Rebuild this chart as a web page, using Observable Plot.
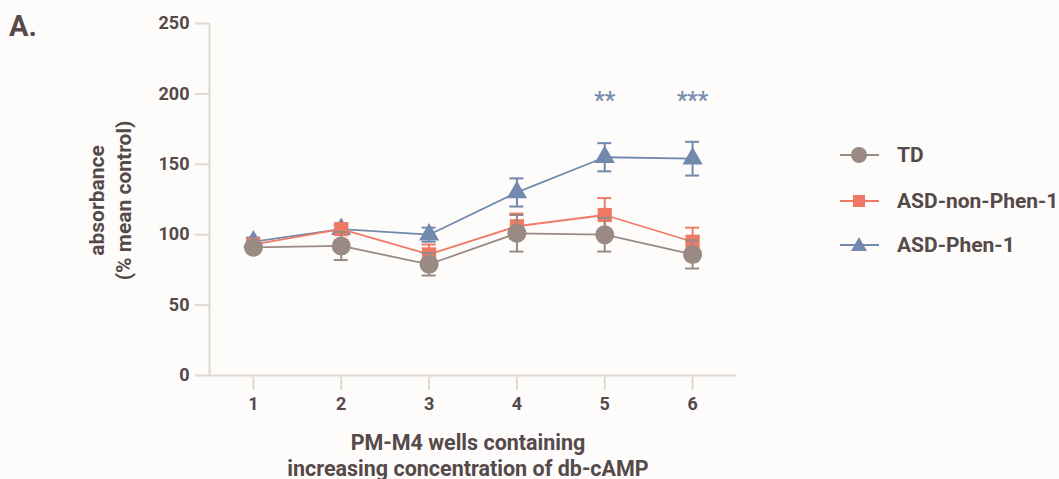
<!DOCTYPE html>
<html>
<head>
<meta charset="utf-8">
<script src="https://cdn.jsdelivr.net/npm/d3@7"></script>
<script src="https://cdn.jsdelivr.net/npm/@observablehq/plot@0.6"></script>
<style>
  html, body { margin: 0; padding: 0; background: #fdfcfa; }
  body { width: 1059px; height: 479px; position: relative; overflow: hidden; font-family: Roboto, "Noto Sans", sans-serif; }
  #panel { position: absolute; left: 9px; top: 9px; font-size: 29px; font-weight: 700; color: #55494a; }
  #legend { position: absolute; left: 840px; top: 0; }
  .item { position: absolute; left: 0; display: flex; align-items: center; white-space: nowrap; }
  .item span { margin-left: 18px; font-size: 21px; font-weight: 700; color: #55494a; }
  #chart { position: absolute; left: 0; top: 0; }
</style>
</head>
<body>
<div id="chart"></div>
<div id="panel">A.</div>
<div id="legend"></div>
<script>
const wells = [1, 2, 3, 4, 5, 6];
const seriesNames = ["TD", "ASD-non-Phen-1", "ASD-Phen-1"];
const seriesColors = ["#9a8a84", "#ee7a66", "#7189ad"];
const seriesSymbols = ["circle", "square", "triangle"];
const tdMean = [91, 92, 79, 101, 100, 86];
const tdSem = [3, 10, 8, 13, 12, 10];
const nonMean = [93, 104, 86, 106, 114, 95];
const nonSem = [3, 3, 7, 9, 12, 10];
const phenMean = [95, 104, 100, 130, 155, 154];
const phenSem = [3, 3, 5, 10, 10, 12];
const yTicks = [0, 50, 100, 150, 200, 250];
const sigWells = [5, 6];
const sigLabels = ["**", "***"];
const sigY = [195, 195];

const means = [tdMean, nonMean, phenMean];
const sems = [tdSem, nonSem, phenSem];
const textColor = "#55494a";
const axisColor = "#ddd8d0";

function rows(i) {
  return wells.map((w, j) => ({ x: w, y: means[i][j], lo: means[i][j] - sems[i][j], hi: means[i][j] + sems[i][j], s: seriesNames[i] }));
}
// draw order: ASD-Phen-1 at bottom, TD on top
const order = [2, 1, 0];
const marks = [];
marks.push(Plot.ruleY([0], { x1: 0.5, x2: 6.5, stroke: axisColor, strokeWidth: 2 }));
marks.push(Plot.ruleX([0.5], { y1: 0, y2: 250, stroke: axisColor, strokeWidth: 2 }));
for (const i of order) {
  const d = rows(i);
  const c = seriesColors[i];
  marks.push(Plot.ruleX(d, { x: "x", y1: "lo", y2: "hi", stroke: c, strokeWidth: 2 }));
  marks.push(Plot.ruleY(d, { y: "hi", x1: "x", x2: "x", insetLeft: -7, insetRight: -7, stroke: c, strokeWidth: 2 }));
  marks.push(Plot.ruleY(d, { y: "lo", x1: "x", x2: "x", insetLeft: -7, insetRight: -7, stroke: c, strokeWidth: 2 }));
  marks.push(Plot.line(d, { x: "x", y: "y", stroke: c, strokeWidth: 1.8 }));
  const r = seriesSymbols[i] === "circle" ? 9.5 : seriesSymbols[i] === "square" ? 8 : 7.5;
  marks.push(Plot.dot(d, { x: "x", y: "y", symbol: () => seriesSymbols[i], r, fill: c, stroke: "none" }));
}
marks.push(Plot.text(sigWells.map((w, k) => ({ x: w, y: sigY[k], t: sigLabels[k] })), {
  x: "x", y: "y", text: "t", fill: "#7a8db0", fontSize: 23, fontWeight: 700
}));
marks.push(Plot.axisY({ ticks: yTicks, tickFormat: "d", tickSize: 14, tickPadding: 6, stroke: axisColor, strokeWidth: 2, strokeOpacity: 1, fill: textColor, fontSize: 18, fontWeight: 700, label: null }));
marks.push(Plot.axisX({ ticks: wells, tickFormat: "d", tickSize: 13, tickPadding: 7, stroke: axisColor, strokeWidth: 2, strokeOpacity: 1, fill: textColor, fontSize: 18, fontWeight: 700, label: null }));
marks.push(Plot.text(["absorbance\n(% mean control)"], { frameAnchor: "left", textAnchor: "middle", rotate: -90, dx: -101, fill: textColor, fontSize: 21, fontWeight: 700, lineHeight: 1.28 }));
marks.push(Plot.text(["PM-M4 wells containing\nincreasing concentration of db-cAMP"], { frameAnchor: "bottom", textAnchor: "middle", lineAnchor: "top", dx: -5, dy: 54, fill: textColor, fontSize: 21.5, fontWeight: 700, lineHeight: 1.2 }));

const chart = Plot.plot({
  width: 1059,
  height: 479,
  marginLeft: 209,
  marginRight: 323,
  marginTop: 23,
  marginBottom: 102,
  insetBottom: 2,
  style: { background: "transparent", fontFamily: "Roboto, 'Noto Sans', sans-serif", overflow: "visible" },
  x: { domain: [0.5, 6.5] },
  y: { domain: [0, 250] },
  marks
});
document.getElementById("chart").appendChild(chart);

// legend
const legend = document.getElementById("legend");
const legendTops = [155, 201, 245];
seriesNames.forEach((name, i) => {
  const item = document.createElement("div");
  item.className = "item";
  item.style.top = (legendTops[i] - 12) + "px";
  const c = seriesColors[i];
  let shape;
  if (seriesSymbols[i] === "circle") shape = `<circle cx="19" cy="12" r="8" fill="${c}"/>`;
  else if (seriesSymbols[i] === "square") shape = `<rect x="13" y="6" width="12" height="12" fill="${c}"/>`;
  else shape = `<path d="M19,4 L27,18 L11,18 Z" fill="${c}"/>`;
  item.innerHTML = `<svg width="39" height="24"><line x1="0" y1="12" x2="39" y2="12" stroke="${c}" stroke-width="2"/>${shape}</svg><span>${name}</span>`;
  legend.appendChild(item);
});
</script>
</body>
</html>
